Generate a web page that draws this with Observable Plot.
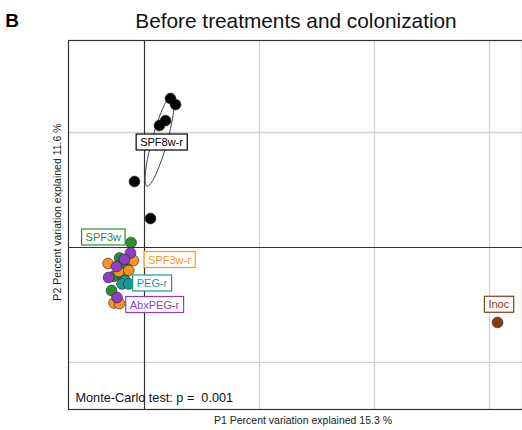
<!DOCTYPE html>
<html>
<head>
<meta charset="utf-8">
<script src="https://cdn.jsdelivr.net/npm/d3@7"></script>
<script src="https://cdn.jsdelivr.net/npm/@observablehq/plot@0.6"></script>
<style>
  html, body { margin: 0; padding: 0; background: #fff; }
  #chart svg { display: block; }
</style>
</head>
<body>
<div id="chart"></div>
<script>
// ---- Data (PCoA coordinates) ----
const groups = ["SPF8w-r", "SPF3w", "SPF3w-r", "PEG-r", "AbxPEG-r", "Inoc"];
const groupColors = ["#000000", "#2e8b2e", "#f7931e", "#179a9a", "#8c3fc6", "#8b3a0c"];

const spf8wrX = [0.0226, 0.0270, 0.0130, 0.0183, -0.0087, 0.0052];
const spf8wrY = [0.1296, 0.1243, 0.1061, 0.1104, 0.0574, 0.0252];

const spf3wX = [-0.0117, -0.0217, -0.0157, -0.0191, -0.0270, -0.0183, -0.0287];
const spf3wY = [0.0043, -0.0091, -0.0130, -0.0165, -0.0252, -0.0261, -0.0374];

const spf3wrX = [-0.0317, -0.0096, -0.0223, -0.0137, -0.0265, -0.0217];
const spf3wrY = [-0.0139, -0.0113, -0.0209, -0.0200, -0.0483, -0.0487];

const abxpegrX = [-0.0122, -0.0174, -0.0243, -0.0313, -0.0239];
const abxpegrY = [-0.0048, -0.0104, -0.0165, -0.0261, -0.0435];

const pegrX = [-0.0170, -0.0196, -0.0137];
const pegrY = [-0.0287, -0.0317, -0.0317];

const inocX = [0.3070];
const inocY = [-0.0652];

// group label anchor points
const labelX = [0.0148, -0.0358, 0.0217, 0.0065, 0.0087, 0.3081];
const labelY = [0.0913, 0.0087, -0.0109, -0.0313, -0.0500, -0.0498];

// SPF8w-r dispersion ellipse: center, semi-axes, angle (degrees)
const ellipseSPF8wr = {cx: 0.0132, cy: 0.0930, a: 0.0412, b: 0.0066, angle: 74.5};

const xGrid = [0, 0.1, 0.2, 0.3];
const yGrid = [-0.1, 0, 0.1];

const title = "Before treatments and colonization";
const panelTag = "B";
const xLabel = "P1 Percent variation explained 15.3 %";
const yLabel = "P2 Percent variation explained 11.6 %";
const testText = "Monte-Carlo test: p =  0.001";

// ---- Build tables ----
const pts = [];
function addGroup(name, xs, ys) { xs.forEach((x, i) => pts.push({group: name, x, y: ys[i]})); }
addGroup("SPF8w-r", spf8wrX, spf8wrY);
addGroup("SPF3w", spf3wX, spf3wY);
addGroup("SPF3w-r", spf3wrX, spf3wrY);
addGroup("AbxPEG-r", abxpegrX, abxpegrY);
addGroup("PEG-r", pegrX, pegrY);
addGroup("Inoc", inocX, inocY);

const labels = groups.map((g, i) => ({group: g, x: labelX[i], y: labelY[i]}));

const ell = [];
{
  const e = ellipseSPF8wr, th = e.angle * Math.PI / 180;
  for (let k = 0; k <= 80; k++) {
    const t = 2 * Math.PI * k / 80;
    const u = e.a * Math.cos(t), v = e.b * Math.sin(t);
    ell.push({x: e.cx + u * Math.cos(th) - v * Math.sin(th), y: e.cy + u * Math.sin(th) + v * Math.cos(th)});
  }
}

const colorOf = Object.fromEntries(groups.map((g, i) => [g, groupColors[i]]));

const W = 522, H = 430;
const plot = Plot.plot({
  width: W,
  height: H,
  marginTop: 40,
  marginBottom: 21,
  marginLeft: 68,
  marginRight: 0,
  style: {fontFamily: "Liberation Sans, Arial, sans-serif", background: "#fff"},
  x: {domain: [-0.0661, 0.3287], axis: null},
  y: {domain: [-0.1409, 0.18], axis: null},
  marks: [
    Plot.ruleX(xGrid.filter(d => d !== 0), {stroke: "#d4d4d4", strokeWidth: 1.3}),
    Plot.ruleY(yGrid.filter(d => d !== 0), {stroke: "#d4d4d4", strokeWidth: 1.3}),
    Plot.ruleX([0], {stroke: "#333", strokeWidth: 1.2}),
    Plot.ruleY([0], {stroke: "#333", strokeWidth: 1.2}),
    Plot.line(ell, {x: "x", y: "y", stroke: "#444", strokeWidth: 1, curve: "linear"}),
    Plot.dot(pts, {x: "x", y: "y", r: 5.4, fill: d => colorOf[d.group], stroke: "#222", strokeWidth: 0.6}),
    Plot.text(labels, {x: "x", y: "y", text: "group", fill: d => colorOf[d.group], fontSize: 11, className: "grp-label"}),
    Plot.text([testText], {frameAnchor: "bottom-left", dx: 7, dy: -8, fontSize: 12.7, fill: "#111", textAnchor: "start"}),
    Plot.frame({stroke: "#333", strokeWidth: 1.2})
  ]
});

// Decorations outside the frame: title, panel tag, axis labels
const svg = d3.select(plot);
svg.append("text").attr("x", 12).attr("y", 27).attr("font-size", 19).attr("font-weight", "bold")
  .attr("fill", "#000").text(panelTag);
svg.append("text").attr("x", 296).attr("y", 28).attr("font-size", 20.8).attr("text-anchor", "middle")
  .attr("fill", "#111").text(title);
svg.append("text").attr("x", 303).attr("y", 424).attr("font-size", 10.5).attr("text-anchor", "middle")
  .attr("fill", "#222").text(xLabel);
svg.append("text").attr("transform", "translate(61,212) rotate(-90)").attr("font-size", 10.5)
  .attr("text-anchor", "middle").attr("fill", "#222").text(yLabel);

document.getElementById("chart").appendChild(plot);

// Boxes behind group labels
svg.selectAll("g.grp-label text, g[aria-label='text'] text").each(function() {
  const t = this;
  const g = t.closest("g");
  if (!g || !g.classList.contains("grp-label")) return;
  const bb = t.getBBox();
  const col = t.getAttribute("fill") || (g.getAttribute("fill"));
  const rect = document.createElementNS("http://www.w3.org/2000/svg", "rect");
  rect.setAttribute("x", bb.x - 4);
  rect.setAttribute("y", bb.y - 2);
  rect.setAttribute("width", bb.width + 8);
  rect.setAttribute("height", bb.height + 4);
  rect.setAttribute("fill", "#fff");
  rect.setAttribute("stroke", col);
  rect.setAttribute("stroke-width", 1.2);
  if (t.getAttribute("transform")) rect.setAttribute("transform", t.getAttribute("transform"));
  g.insertBefore(rect, t);
});
</script>
</body>
</html>
